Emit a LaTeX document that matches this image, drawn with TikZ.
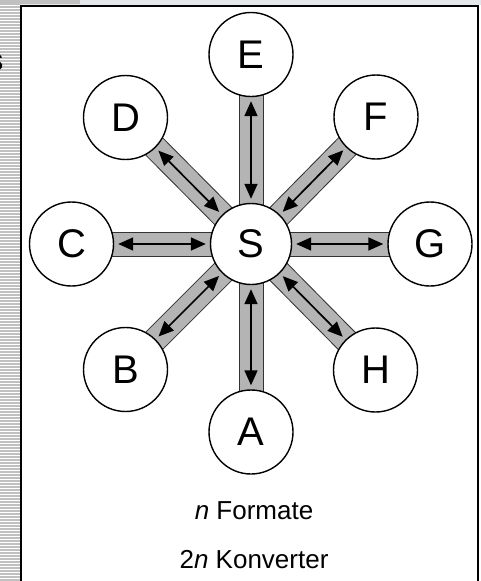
\documentclass[tikz,border=0pt]{standalone}
\usepackage{fontspec}
\setmainfont{Liberation Sans}
\usetikzlibrary{arrows.meta}
\pgfdeclarelayer{bg}
\pgfsetlayers{bg,main}
\definecolor{stripe}{HTML}{C0C0C0}
\definecolor{topbar}{HTML}{E4E8EC}
\definecolor{band}{HTML}{B4B4B4}
\tikzset{
  outer/.style={circle, draw, line width=1.4pt, fill=white, minimum size=84pt, inner sep=0pt, font=\fontsize{40}{40}\selectfont},
  center/.style={outer, minimum size=81pt},
  bandedge/.style={line width=25pt, black!80},
  bandfill/.style={line width=23pt, band},
  arr/.style={line width=1.7pt, {Triangle[length=15pt,width=13pt]}-{Triangle[length=15pt,width=13pt]}, shorten <=4pt, shorten >=4pt},
  caption/.style={anchor=base, font=\fontsize{26}{26}\selectfont}
}
\begin{document}
\begin{tikzpicture}[x=1pt,y=-1pt]
\useasboundingbox (0,0) rectangle (481,581);
% nodes
\node[center] (S) at (251,244) {S};
\node[outer] (E) at (251,54.5) {E};
\node[outer] (A) at (251,432) {A};
\node[outer] (C) at (71.5,244) {C};
\node[outer] (G) at (430,244) {G};
\node[outer] (D) at (125.5,117.5) {D};
\node[outer] (F) at (376,117) {F};
\node[outer] (B) at (125.5,369.5) {B};
\node[outer] (H) at (375.5,370) {H};
\begin{pgfonlayer}{bg}
\fill[white] (0,0) rectangle (481,581);
% top bar
\fill[topbar] (0,0) rectangle (481,4.5);
\fill[stripe] (0,0) rectangle (80,4);
% left striped strip
\fill[stripe] (0,0) rectangle (19.5,581);
\foreach \i in {0,...,192} {
  \draw[white, line width=0.9pt] (0,{5.5+3*\i}) -- (19.5,{5.5+3*\i});
}
% partial glyph at far left
\begin{scope}
  \clip (0,40) rectangle (3.2,80);
  \node[anchor=base east, inner sep=0pt, font=\fontsize{30}{30}\selectfont] (frag) at (3.6,70) {s};
\end{scope}
% bands
\foreach \n in {E,A,C,G,D,F,B,H} {
  \draw[bandedge] (S.center) -- (\n.center);
}
\foreach \n in {E,A,C,G,D,F,B,H} {
  \draw[bandfill] (S.center) -- (\n.center);
}
\end{pgfonlayer}
% frame
\draw[line width=2pt] (21,581) -- (21,5.5) -- (478,5.5) -- (478,581);
% arrows
\foreach \n in {E,A,C,G,D,F,B,H} {
  \draw[arr] (S) -- (\n);
}
% captions
\node[caption] (t1) at (254,519) {\textit{n} Formate};
\node[caption] (t2) at (254,568) {2\textit{n} Konverter};
\end{tikzpicture}
\end{document}
